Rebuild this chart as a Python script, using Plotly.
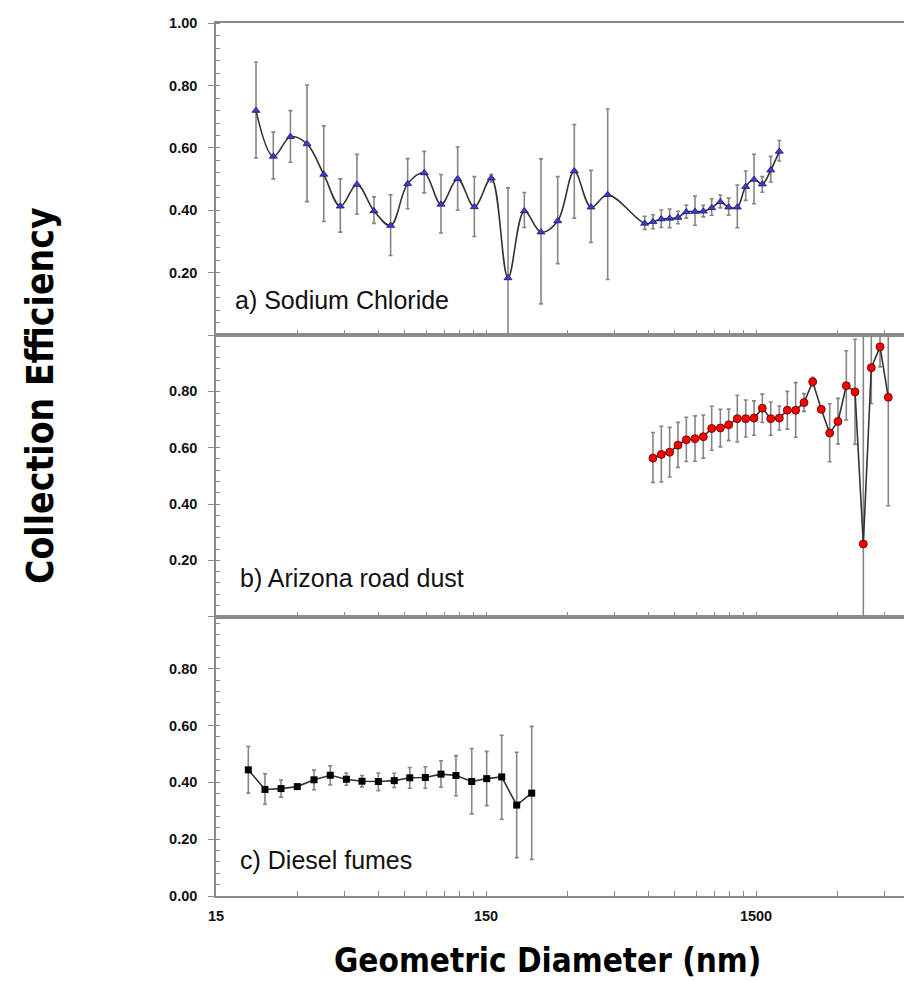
import plotly.graph_objects as go
import math

# ---------------- data ----------------
# a) Sodium Chloride
nacl_d = [21.1, 24.45, 28.3, 32.6, 37.6, 43.3, 49.9, 57.7, 66.5, 76.9, 88.6, 102.2,
          117.8, 135.8, 156.9, 181.0, 208.0, 239.8, 276.5, 318.5, 367.3, 423.5,
          580.7, 623, 669, 718.5, 771, 828, 891.6, 957, 1028, 1107, 1188, 1279,
          1374, 1475, 1583, 1701, 1830]
nacl_ce = [0.720, 0.573, 0.636, 0.613, 0.515, 0.413, 0.483, 0.398, 0.351, 0.485, 0.520, 0.419,
           0.501, 0.411, 0.503, 0.183, 0.398, 0.330, 0.366, 0.526, 0.410, 0.450,
           0.358, 0.363, 0.372, 0.374, 0.377, 0.395, 0.396, 0.397, 0.408, 0.427, 0.410, 0.410,
           0.476, 0.499, 0.484, 0.529, 0.589]
nacl_up = [0.156, 0.078, 0.084, 0.189, 0.156, 0.088, 0.097, 0.045, 0.099, 0.081, 0.069, 0.096,
           0.102, 0.097, 0.012, 0.289, 0.059, 0.235, 0.142, 0.149, 0.118, 0.275,
           0.023, 0.023, 0.029, 0.030, 0.020, 0.022, 0.050, 0.019, 0.029, 0.022, 0.029, 0.071,
           0.050, 0.081, 0.024, 0.044, 0.035]
nacl_dn = [0.152, 0.072, 0.082, 0.185, 0.151, 0.083, 0.095, 0.040, 0.096, 0.080, 0.064, 0.092,
           0.101, 0.095, 0.012, 0.290, 0.053, 0.230, 0.137, 0.151, 0.113, 0.272,
           0.019, 0.022, 0.027, 0.030, 0.020, 0.020, 0.044, 0.018, 0.024, 0.019, 0.026, 0.066,
           0.044, 0.078, 0.026, 0.039, 0.031]

# b) Arizona road dust
ard_d = [623, 669, 718.5, 771, 828, 891.6, 957, 1028, 1107, 1188, 1279, 1374, 1475, 1583,
         1701, 1830, 1959, 2104, 2259, 2433, 2617, 2812, 3018, 3240, 3490, 3746, 4010, 4320, 4635]
ard_ce = [0.563, 0.576, 0.584, 0.609, 0.628, 0.632, 0.639, 0.668, 0.670, 0.681, 0.703, 0.703,
          0.705, 0.740, 0.703, 0.705, 0.733, 0.733, 0.760, 0.834, 0.736, 0.652, 0.693, 0.820,
          0.798, 0.258, 0.884, 0.958, 0.779]
ard_up = [0.091, 0.100, 0.088, 0.081, 0.080, 0.081, 0.077, 0.079, 0.066, 0.056, 0.083, 0.066,
          0.061, 0.050, 0.059, 0.043, 0.067, 0.098, 0.032, 0.016, 0.006, 0.104, 0.082, 0.124,
          0.187, 0.800, 0.127, 0.071, 0.385]
ard_dn = [0.086, 0.098, 0.088, 0.079, 0.077, 0.080, 0.076, 0.077, 0.067, 0.056, 0.083, 0.065,
          0.061, 0.050, 0.059, 0.042, 0.067, 0.096, 0.031, 0.014, 0.006, 0.102, 0.080, 0.122,
          0.186, 0.300, 0.127, 0.071, 0.385]

# c) Diesel fumes
dsl_d = [19.76, 22.78, 26.12, 30.0, 34.6, 39.75, 45.6, 52.1, 59.9, 68.6, 78.3, 89.4,
         102.2, 116.1, 132.8, 150.9, 171.5, 194.9, 221.5]
dsl_ce = [0.444, 0.375, 0.378, 0.385, 0.409, 0.425, 0.411, 0.404, 0.403, 0.406, 0.416, 0.417,
          0.429, 0.424, 0.403, 0.413, 0.419, 0.320, 0.362]
dsl_up = [0.082, 0.055, 0.030, 0.008, 0.034, 0.033, 0.022, 0.020, 0.030, 0.026, 0.036, 0.038,
          0.047, 0.070, 0.116, 0.096, 0.147, 0.186, 0.235]
dsl_dn = [0.082, 0.052, 0.030, 0.008, 0.035, 0.034, 0.021, 0.020, 0.032, 0.024, 0.037, 0.038,
          0.046, 0.071, 0.114, 0.095, 0.149, 0.185, 0.233]

panel_labels = ["a) Sodium Chloride", "b) Arizona road dust", "c) Diesel fumes"]
x_tick_vals = [15, 150, 1500]
x_tick_text = ["15", "150", "1500"]
y_tick_vals = [0.0, 0.2, 0.4, 0.6, 0.8, 1.0]
y_text_a = ["", "0.20", "0.40", "0.60", "0.80", "1.00"]
y_text_b = ["", "0.20", "0.40", "0.60", "0.80", ""]
y_text_c = ["0.00", "0.20", "0.40", "0.60", "0.80", ""]
x_title = "Geometric Diameter (nm)"
y_title = "Collection Efficiency"

# ---------------- layout helpers ----------------
W, H = 904, 981
x0_px = 216
x_dom = [x0_px / W, 1.0]
px_per_dec = 270.0
x_range = [math.log10(15), math.log10(15) + (W - x0_px) / px_per_dec]

def ydom(top_px, bot_px):
    return [1 - bot_px / H, 1 - top_px / H]

doms = [ydom(23.3, 335), ydom(335, 616.7), ydom(616.7, 896)]
ranges = [[0, 1.0], [0, 1.0], [0, 0.983]]

minor_x = [15 * k * 10 ** e for e in (0, 1, 2) for k in range(2, 10)]

AX = "#8a8a8a"
ERR = "#858585"
LINE = "#333333"
TICKFONT = dict(family="Liberation Sans, Arial, sans-serif", size=14.5, color="#111", weight="bold")

fig = go.Figure()

def err(up, dn):
    return dict(type="data", symmetric=False, array=up, arrayminus=dn,
                color=ERR, thickness=1.6, width=2)

fig.add_trace(go.Scatter(
    x=nacl_d, y=nacl_ce, mode="lines+markers", xaxis="x", yaxis="y",
    line=dict(color=LINE, width=1.6, shape="spline", smoothing=1.0),
    marker=dict(symbol="triangle-up", size=7, color="#3a3ae8", line=dict(color="#1a1a50", width=0.8)),
    error_y=err(nacl_up, nacl_dn), showlegend=False))

fig.add_trace(go.Scatter(
    x=ard_d, y=ard_ce, mode="lines+markers", xaxis="x2", yaxis="y2",
    line=dict(color=LINE, width=1.6),
    marker=dict(symbol="circle", size=8, color="#ff0000", line=dict(color="#500000", width=0.8)),
    error_y=err(ard_up, ard_dn), showlegend=False))

fig.add_trace(go.Scatter(
    x=dsl_d, y=dsl_ce, mode="lines+markers", xaxis="x3", yaxis="y3",
    line=dict(color=LINE, width=1.6),
    marker=dict(symbol="square", size=7, color="#000000"),
    error_y=err(dsl_up, dsl_dn), showlegend=False))

layout = dict(
    width=W, height=H,
    margin=dict(l=0, r=0, t=0, b=0, autoexpand=False),
    paper_bgcolor="white", plot_bgcolor="white",
    showlegend=False,
)

ytexts = [y_text_a, y_text_b, y_text_c]
for i in range(3):
    sx = "" if i == 0 else str(i + 1)
    layout["xaxis" + sx] = dict(
        type="log", range=x_range, domain=x_dom, anchor="y" + sx,
        showgrid=False, zeroline=False,
        showline=True, linecolor=AX, linewidth=1.5, mirror=True,
        ticks="inside", ticklen=5, tickcolor=AX, tickwidth=1,
        tickvals=x_tick_vals, ticktext=x_tick_text,
        showticklabels=(i == 2), tickfont=TICKFONT, ticklabelstandoff=6,
        minor=dict(tickvals=minor_x, ticks="inside", ticklen=5, tickcolor=AX, tickwidth=1, showgrid=False),
        automargin=False,
    )
    layout["yaxis" + sx] = dict(
        range=ranges[i], domain=doms[i], anchor="x" + sx,
        showgrid=False, zeroline=False,
        showline=True, linecolor=AX, linewidth=1.5, mirror=False,
        ticks="outside", ticklen=6, tickcolor=AX, tickwidth=1,
        tickvals=y_tick_vals, ticktext=ytexts[i],
        tickfont=TICKFONT, ticklabelstandoff=8,
        minor=dict(dtick=0.04, tick0=0, ticks="inside", ticklen=4, tickcolor=AX, tickwidth=1, showgrid=False),
        automargin=False,
    )

fig.update_layout(**layout)

label_y = [1 - 300 / H, 1 - 578 / H, 1 - 860 / H]
label_x = [232.7 / W, 237.7 / W, 237.7 / W]
for txt, lx, ly in zip(panel_labels, label_x, label_y):
    fig.add_annotation(text=txt, xref="paper", yref="paper", x=lx, y=ly,
                       xanchor="left", yanchor="middle", showarrow=False,
                       font=dict(family="Liberation Sans, Arial, sans-serif", size=25, color="#111"))

TITLE_FAMILY = "Liberation Sans Narrow, Arial Narrow, DejaVu Sans Condensed, sans-serif"
fig.add_annotation(text=x_title, xref="paper", yref="paper", x=547 / W, y=1 - 960 / H,
                   xanchor="center", yanchor="middle", showarrow=False,
                   font=dict(family=TITLE_FAMILY, size=33, color="#000", weight="bold"))
fig.add_annotation(text=y_title, xref="paper", yref="paper", x=40 / W, y=1 - 396 / H,
                   xanchor="center", yanchor="middle", showarrow=False, textangle=-90,
                   font=dict(family=TITLE_FAMILY, size=37, color="#000", weight="bold"))

fig.write_html("out.html")
